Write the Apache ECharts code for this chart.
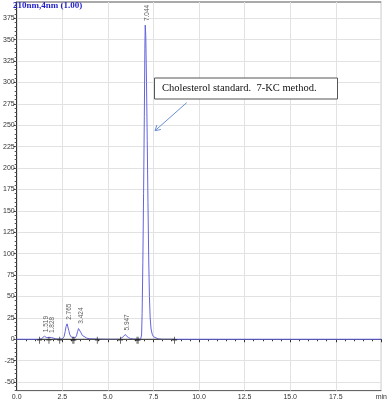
<!DOCTYPE html>
<html>
<head>
<meta charset="utf-8">
<script src="https://cdn.jsdelivr.net/npm/echarts@6/dist/echarts.min.js"></script>
<style>html,body{margin:0;padding:0;background:#fff}#c{width:390px;height:404px}</style>
</head>
<body>
<div id="c"></div>
<script>
// ---- data ----
var times = [0, 1.2, 1.35, 1.45, 1.52, 1.58, 1.65, 1.72, 1.78, 1.83, 1.9, 2.0, 2.15, 2.35,
  2.5, 2.6, 2.66, 2.71, 2.765, 2.81, 2.86, 2.92, 3.0, 3.1, 3.2, 3.28, 3.34, 3.39, 3.424, 3.47, 3.53, 3.6, 3.7, 3.85, 4.0, 4.4, 5.0,
  5.65, 5.75, 5.85, 5.947, 6.03, 6.12, 6.25, 6.4, 6.6, 6.8,
  6.85, 6.88, 6.92, 6.96, 7.0, 7.03, 7.05, 7.08, 7.12, 7.16, 7.2, 7.24, 7.28, 7.32, 7.37, 7.43, 7.5, 7.6, 7.75, 8.0, 8.7, 20];
var signal = [0, 0, 0.5, 2, 3.5, 3, 1.8, 1.5, 2, 2.5, 2, 1.2, 0.5, 0.2,
  0.3, 3, 9, 15, 18, 16, 10, 5, 2.5, 1.2, 1.5, 4, 9, 12.5, 13.5, 12, 7.5, 4.5, 2.5, 1.2, 0.6, 0.2, 0,
  0, 0.8, 3, 5.5, 4, 2, 0.8, 0.3, 0.1, 0.3,
  5, 30, 90, 170, 260, 340, 367, 355, 300, 232, 160, 95, 50, 25, 12, 6, 3, 1.5, 0.5, 0, 0, 0];
var peakTimes = [1.519, 1.828, 2.765, 3.424, 5.947, 7.044];
var peakHeights = [3.5, 2.5, 18, 13.5, 5.5, 367];
var peakLabels = ['1.519', '1.828', '2.765', '3.424', '5.947', '7.044'];
var markerTimes = [1.25, 1.77, 2.36, 3.08, 3.14, 4.42, 5.69, 6.6, 6.66, 8.66];
var yTicks = [-50, -25, 0, 25, 50, 75, 100, 125, 150, 175, 200, 225, 250, 275, 300, 325, 350, 375];
var xTicks = ['0.0', '2.5', '5.0', '7.5', '10.0', '12.5', '15.0', '17.5', 'min'];
var titleText = '210nm,4nm (1.00)';
var noteText = 'Cholesterol standard.  7-KC method.';

var curve = times.map(function (t, i) { return [t, signal[i]]; });
var peaks = peakTimes.map(function (t, i) { return { value: [t, peakHeights[i]], name: peakLabels[i] }; });
var markers = markerTimes.map(function (t) { return [t, 0]; });
var baseline = [[markerTimes[0], 0], [markerTimes[markerTimes.length - 1], 0]];

var chart = echarts.init(document.getElementById('c'), null, { renderer: 'canvas' });
var lblFont = { fontSize: 7, color: '#333', fontFamily: 'Liberation Sans, DejaVu Sans, sans-serif' };
chart.setOption({
  animation: false,
  grid: { left: 12.7, right: 4, top: 2, bottom: 13.4, show: true, borderColor: '#555', borderWidth: 1 },
  xAxis: {
    type: 'value', min: 0, max: 20, interval: 2.5,
    axisLine: { show: true, lineStyle: { color: '#333', width: 1 } },
    axisTick: { show: true, length: 3, lineStyle: { color: '#333' } },
    minorTick: { show: true, splitNumber: 5, length: 2, lineStyle: { color: '#333' } },
    axisLabel: Object.assign({ margin: 3, showMaxLabel: true, showMinLabel: true,
      formatter: function (v) { return xTicks[Math.round(v / 2.5)]; } }, lblFont),
    splitLine: { show: true, lineStyle: { color: '#e2e2e2', width: 1 } }
  },
  yAxis: [{
    type: 'value', min: -60, max: 394,
    axisLine: { show: true, onZero: false, lineStyle: { color: '#333', width: 1 } },
    axisTick: { show: true, length: 3, customValues: yTicks, lineStyle: { color: '#333' } },
    axisLabel: Object.assign({ margin: 2, customValues: yTicks }, lblFont),
    splitLine: { show: true, lineStyle: { color: '#e2e2e2', width: 1 } }
  }, {
    type: 'value', min: -60, max: 394, interval: 5, position: 'left',
    axisLine: { show: false },
    axisTick: { show: true, length: 2, lineStyle: { color: '#555' } },
    axisLabel: { show: false },
    splitLine: { show: false }
  }],
  graphic: [
    { type: 'text', left: 13, top: 1, style: { text: titleText, font: 'bold 9px "Liberation Serif", serif', fill: '#1f1fc8' }, z: 100 },
    { type: 'rect', shape: { x: 154.5, y: 78, width: 183, height: 21 }, style: { fill: '#fff', stroke: '#555', lineWidth: 1 }, z: 100 },
    { type: 'text', x: 162, y: 88.5, style: { text: noteText, font: '10.5px "Liberation Serif", serif', fill: '#111', verticalAlign: 'middle' }, z: 101 },
    { type: 'line', shape: { x1: 186.7, y1: 102.7, x2: 155, y2: 130.7 }, style: { stroke: '#6a8fd0', lineWidth: 1 }, z: 100 },
    { type: 'polyline', shape: { points: [[160.9, 129.5], [155, 130.7], [156.9, 125]] }, style: { stroke: '#6a8fd0', lineWidth: 1, fill: null }, z: 100 }
  ],
  series: [
    { type: 'line', data: curve, showSymbol: false, symbol: 'none', lineStyle: { color: '#6464dc', width: 1 }, z: 3 },
    { type: 'line', data: baseline, showSymbol: false, symbol: 'none', lineStyle: { color: '#555', width: 1 }, z: 4 },
    { type: 'scatter', data: markers, symbol: 'path://M3,0V9M0,4H6', symbolSize: [5, 7], symbolOffset: [0, 1],
      itemStyle: { color: 'none', borderColor: '#222', borderWidth: 1 }, z: 5 },
    { type: 'scatter', data: peaks, symbolSize: 0, z: 6,
      label: Object.assign({ show: true, position: 'top', distance: 0, rotate: 90, align: 'left', verticalAlign: 'middle',
        offset: [4, 2], formatter: function (p) { return p.name; } }, lblFont, { fontSize: 6.5 }) }
  ]
});
</script>
</body>
</html>
